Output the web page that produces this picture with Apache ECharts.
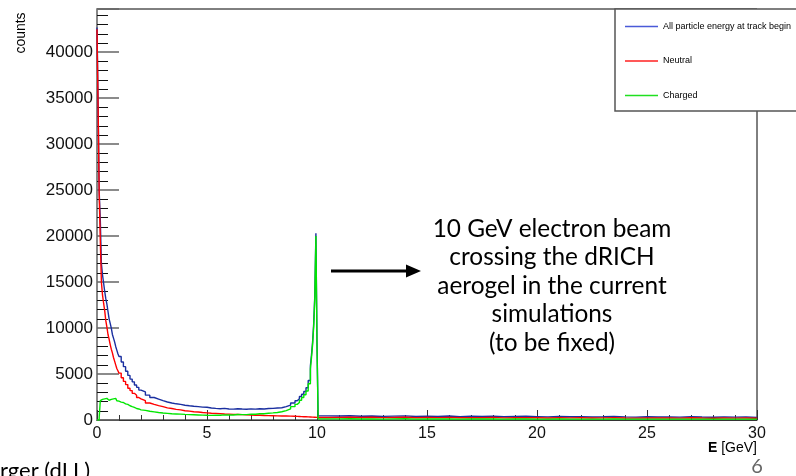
<!DOCTYPE html>
<html>
<head>
<meta charset="utf-8">
<script src="https://cdn.jsdelivr.net/npm/echarts@6/dist/echarts.min.js"></script>
<style>
  html, body { margin: 0; padding: 0; background: #fff; }
  #main { width: 796px; height: 476px; }
</style>
</head>
<body>
<div id="main"></div>
<script>
// lower bin edges, GeV
var energy = [
  0, 0.05, 0.1, 0.15, 0.2, 0.25, 0.3, 0.35, 0.4, 0.45, 0.5, 0.55, 0.6, 0.65, 0.7, 0.75, 0.8, 0.85, 0.9, 0.95, 1.0,
  1.1, 1.2, 1.3, 1.4, 1.5, 1.6, 1.7, 1.8, 1.9, 2.0,
  2.2, 2.4, 2.6, 2.8, 3.0, 3.2, 3.4, 3.6, 3.8, 4.0, 4.2, 4.4, 4.6, 4.8, 5.0,
  5.2, 5.4, 5.6, 5.8, 6.0, 6.2, 6.4, 6.6, 6.8, 7.0, 7.2, 7.4, 7.6, 7.8, 8.0,
  8.2, 8.4, 8.6, 8.8, 9.0,
  9.1, 9.2, 9.3, 9.4, 9.5, 9.6, 9.7, 9.75, 9.8, 9.85, 9.9, 9.95, 10.0, 10.05,
  10.5, 11, 11.5, 12, 12.5, 13, 13.5, 14, 14.5, 15, 15.5, 16, 16.5, 17, 17.5, 18, 18.5, 19, 19.5, 20,
  20.5, 21, 21.5, 22, 22.5, 23, 23.5, 24, 24.5, 25, 25.5, 26, 26.5, 27, 27.5, 28, 28.5, 29, 29.5, 30
];

var countsAll = [
  42700, 34200, 24800, 21800, 17000, 15800, 14900, 14000, 13200, 12600, 11800, 11000, 10500, 10000, 9300, 8900, 8500, 8000, 7600, 7200, 6900,
  6300, 5800, 5300, 4850, 4450, 4150, 3800, 3550, 3250, 3050,
  2700, 2450, 2280, 2100, 1960, 1850, 1760, 1700, 1610, 1550, 1500, 1460, 1400, 1380, 1310,
  1260, 1220, 1270, 1200, 1180, 1230, 1190, 1170, 1210, 1180, 1230, 1200, 1250, 1260, 1300,
  1330, 1450, 1620, 1850, 2100,
  2300, 2550, 2800, 3100, 3500, 4300, 5900, 7100, 8500, 10500, 13500, 20300, 8400, 450,
  430, 460, 400, 440, 390, 420, 450, 380, 410, 390, 430, 370, 400, 380, 420, 360, 380, 400, 370, 340,
  380, 350, 370, 330, 350, 380, 340, 310, 350, 330, 340, 310, 360, 320, 300, 330, 310, 320, 290, 300
];

var countsNeutral = [
  42500, 34000, 24500, 19500, 15000, 13600, 12700, 11900, 10800, 10100, 9300, 8800, 8200, 7700, 7300, 6800, 6400, 6000, 5600, 5350, 5100,
  4600, 4200, 3850, 3450, 3200, 2900, 2700, 2450, 2300, 2100,
  1850, 1700, 1560, 1450, 1320, 1250, 1160, 1100, 1010, 960, 900, 870, 810, 780, 740,
  720, 690, 660, 640, 610, 600, 580, 560, 530, 520, 510, 490, 480, 470, 450,
  440, 430, 420, 400, 390,
  380, 370, 360, 350, 340, 330, 320, 310, 300, 300, 290, 280, 270, 280,
  290, 310, 270, 300, 260, 280, 300, 250, 270, 260, 290, 240, 260, 250, 280, 230, 250, 260, 240, 220,
  250, 230, 240, 210, 230, 250, 220, 200, 230, 210, 220, 200, 240, 210, 190, 220, 200, 210, 190, 200
];

var countsCharged = [
  0, 0, 300, 2100, 2250, 2400, 2300, 2450, 2350, 2200, 2150, 2300, 2250, 2400, 2300, 2250, 2350, 2200, 2100, 2050, 1950,
  1900, 1750, 1700, 1550, 1450, 1380, 1250, 1200, 1100, 1050,
  950, 880, 810, 760, 720, 680, 660, 640, 610, 590, 570, 550, 530, 510, 500,
  520, 520, 560, 540, 550, 600, 590, 580, 640, 620, 680, 680, 740, 770, 820,
  900, 1020, 1200, 1450, 1700,
  1900, 2150, 2450, 2750, 3150, 3950, 5550, 6800, 8200, 10200, 13300, 20000, 8150, 120,
  120, 130, 110, 120, 100, 120, 130, 100, 120, 110, 120, 100, 110, 110, 120, 100, 110, 110, 100, 100,
  110, 100, 100, 90, 100, 110, 100, 90, 100, 100, 100, 90, 100, 90, 90, 100, 90, 100, 90, 90
];

var seriesNames = ['All particle energy at track begin', 'Neutral', 'Charged'];
var seriesColors = ['#1a2fa0', '#ff0000', '#00e600'];
var legendColors = ['#4a5ad8', '#ff2020', '#20e020'];
var noteLines = ['10 GeV electron beam', 'crossing the dRICH', 'aerogel in the current', 'simulations', '(to be fixed)'];

function pairs(ys) {
  return energy.map(function (e, i) { return [e, ys[i]]; });
}

var chart = echarts.init(document.getElementById('main'), null, { renderer: 'canvas' });

var series = [countsAll, countsNeutral, countsCharged].map(function (ys, i) {
  return {
    name: seriesNames[i],
    type: 'line',
    step: 'end',
    symbol: 'none',
    data: pairs(ys),
    lineStyle: { color: seriesColors[i], width: 1.4 },
    itemStyle: { color: seriesColors[i] },
    z: 2 + i,
    animation: false
  };
});

var option = {
  animation: false,
  backgroundColor: '#fff',
  grid: {
    left: 97, right: 39, top: 9, bottom: 56,
    show: true, borderColor: '#000', borderWidth: 1, backgroundColor: 'transparent'
  },
  legend: {
    orient: 'vertical',
    left: 620, top: 17,
    itemWidth: 33, itemHeight: 1.5, itemGap: 25.5,
    z: 10,
    data: seriesNames.map(function (n, i) {
      return { name: n, icon: 'rect', itemStyle: { color: legendColors[i] } };
    }),
    textStyle: { fontFamily: 'Liberation Sans', fontSize: 9, color: '#000' }
  },
  xAxis: {
    type: 'value',
    min: 0, max: 30, interval: 5,
    axisLine: { lineStyle: { color: '#333', width: 1 } },
    axisTick: { inside: true, length: 10, lineStyle: { color: '#333' } },
    minorTick: { show: true, splitNumber: 5, length: 5, lineStyle: { color: '#333' } },
    splitLine: { show: false },
    axisLabel: { fontFamily: 'Liberation Sans', fontSize: 16, color: '#111', margin: 6 }
  },
  yAxis: {
    type: 'value',
    min: 0, max: 44700, interval: 5000,
    axisLine: { show: true, lineStyle: { color: '#888', width: 2 } },
    axisTick: { inside: true, length: 22, lineStyle: { color: '#666', width: 1.5 } },
    minorTick: { show: true, splitNumber: 5, length: 11, lineStyle: { color: '#111' } },
    splitLine: { show: false },
    axisLabel: {
      fontFamily: 'Liberation Sans', fontSize: 17, color: '#111', margin: 4,
      formatter: function (v) { return v % 5000 === 0 ? String(v) : ''; }
    }
  },
  graphic: [
    {
      type: 'rect', z: 8,
      shape: { x: 615, y: 9, width: 200, height: 102 },
      style: { fill: '#fff', stroke: '#555', lineWidth: 1.5 }
    },
    {
      type: 'text', x: 21, y: 33, rotation: Math.PI / 2,
      style: { text: 'counts', fontFamily: 'Liberation Sans', fontSize: 14, fill: '#000', align: 'center', verticalAlign: 'middle' }
    },
    {
      type: 'text', x: 757, y: 448,
      style: {
        text: '{b|E} [GeV]', align: 'right', verticalAlign: 'middle',
        fontFamily: 'Liberation Sans', fontSize: 14, fill: '#000',
        rich: { b: { fontWeight: 'bold', fontFamily: 'Liberation Sans', fontSize: 14, fill: '#000' } }
      }
    },
    {
      type: 'line', z: 6,
      shape: { x1: 331, y1: 271, x2: 409, y2: 271 },
      style: { stroke: '#000', lineWidth: 3 }
    },
    {
      type: 'polygon', z: 6,
      shape: { points: [[406, 264.5], [421, 271], [406, 277.5]] },
      style: { fill: '#000' }
    },
    {
      type: 'text', x: 552, y: 286, z: 6,
      style: {
        text: noteLines.join('\n'), align: 'center', verticalAlign: 'middle',
        fontFamily: 'Lato', fontSize: 24.4, lineHeight: 28.5, fill: '#000'
      }
    },
    {
      type: 'text', x: 0, y: 471,
      style: { text: 'rger (dLL)', fontFamily: 'Lato', fontSize: 22, fill: '#000', verticalAlign: 'middle' }
    },
    {
      type: 'text', x: 757, y: 467,
      style: { text: '6', fontFamily: 'Lato', fontSize: 20, fill: '#666', align: 'center', verticalAlign: 'middle' }
    }
  ],
  series: series
};

chart.setOption(option);
</script>
</body>
</html>
